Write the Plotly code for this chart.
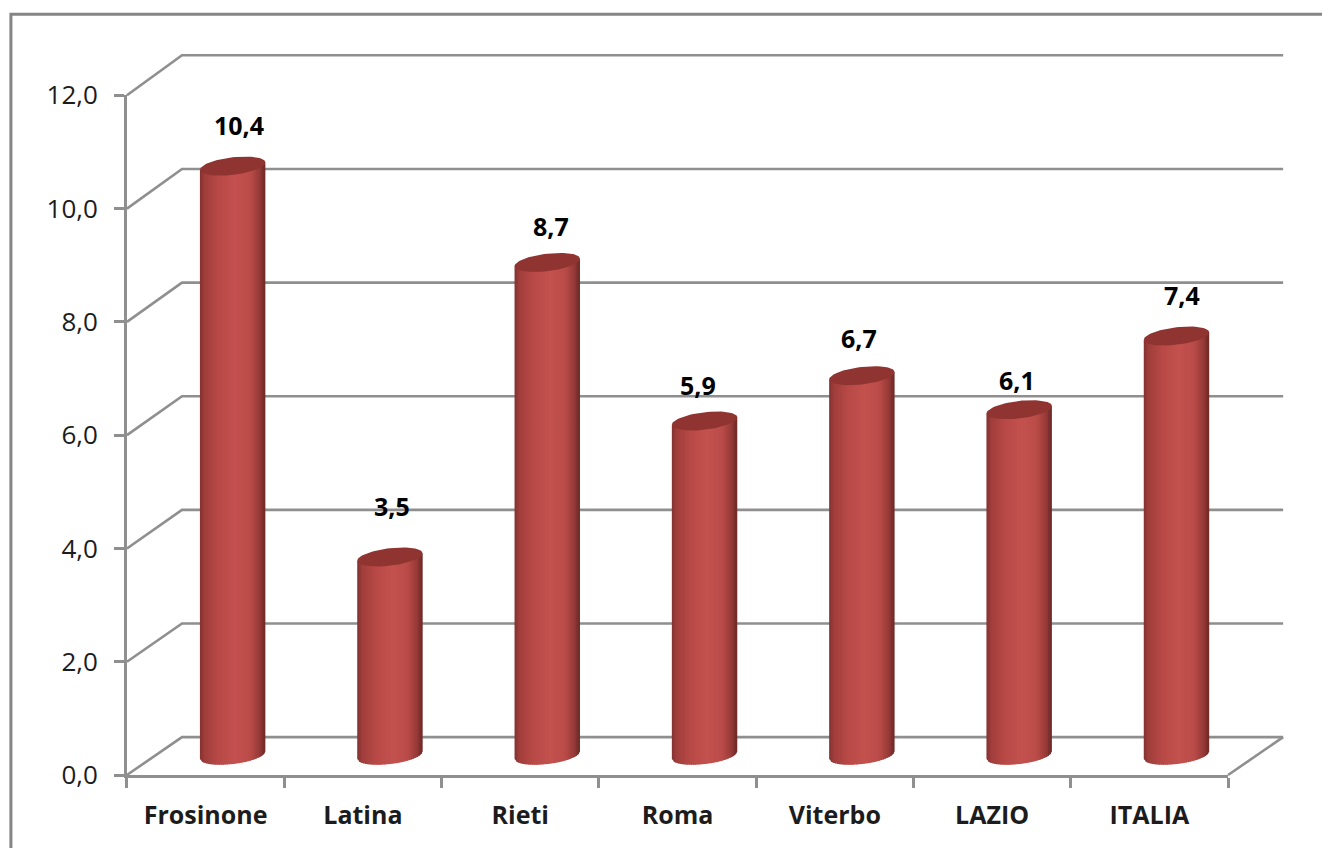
import numpy as np
import plotly.graph_objects as go

# Share per province, with the regional and national figures alongside
categories = ["Frosinone", "Latina", "Rieti", "Roma", "Viterbo", "LAZIO", "ITALIA"]
values = [10.4, 3.5, 8.7, 5.9, 6.7, 6.1, 7.4]
y_ticks = [0, 2, 4, 6, 8, 10, 12]

# Hand placement of each value label, in pixels from the top of its column
label_dx = [6, 2, 4, -7, -3, -2, 6]
label_dy = [-41, -51, -36, -36, -38, -30, -41]

WIDTH, HEIGHT = 1322, 848
GRID = "#8f8f8f"
TEXT = "#1c1c1c"
FONT = "Open Sans"

# Pixel scale of the front face of the box
PX_X = 157.286
PX_Y = 56.667
ORIGIN_X, ORIGIN_Y = 127, 775

# The drawing axes reach past the front face to hold the receding walls
X_MIN, X_MAX = -0.025, 7.4
Y_MIN, Y_MAX = -0.07, 12.8
LEFT = ORIGIN_X + X_MIN * PX_X
RIGHT = ORIGIN_X + X_MAX * PX_X
BOTTOM = ORIGIN_Y - Y_MIN * PX_Y
TOP = ORIGIN_Y - Y_MAX * PX_Y

# Oblique depth of the pseudo-3D box, in axis units
DEPTH_X = 0.35
DEPTH_Y = 0.67
WALL_SCALE = 1.003

# Cylinder geometry, in axis units
RADIUS_X = 0.208
RADIUS_Y = 0.155
TILT = 0.065
COL_DX = DEPTH_X / 2 - 0.003
COL_DY = 0.35

fig = go.Figure()

# Back wall, side wall and floor's right edge
gx, gy = [], []
for v in y_ticks:
    wall = DEPTH_Y + v * WALL_SCALE
    gx += [0, DEPTH_X, 7 + DEPTH_X, None]
    gy += [v, wall, wall, None]
gx += [7, 7 + DEPTH_X, None]
gy += [0, DEPTH_Y, None]
fig.add_trace(go.Scatter(x=gx, y=gy, mode="lines",
                         line=dict(color=GRID, width=2.6), hoverinfo="skip"))


def shade(u):
    """Cylinder side colour at u in [-1, 1] across the column."""
    stops = [-1, -0.85, -0.4, 0.1, 0.55, 0.85, 1]
    reds = [125, 160, 185, 196, 186, 150, 105]
    greens = [48, 62, 74, 82, 76, 58, 40]
    blues = [46, 60, 71, 79, 73, 56, 38]
    return "rgb(%d,%d,%d)" % (np.interp(u, stops, reds),
                              np.interp(u, stops, greens),
                              np.interp(u, stops, blues))


# Column sides: vertical strips that step through the shading
N_STRIPS = 34
edges = np.linspace(-1, 1, N_STRIPS + 1)
for s in range(N_STRIPS):
    u0, u1 = edges[s], min(edges[s + 1] + 0.03, 1)
    xs, ys = [], []
    for i, val in enumerate(values):
        cx = i + 0.5 + COL_DX
        low0 = COL_DY + TILT * u0 - RADIUS_Y * np.sqrt(1 - u0 ** 2)
        low1 = COL_DY + TILT * u1 - RADIUS_Y * np.sqrt(1 - u1 ** 2)
        top0 = COL_DY + val + TILT * u0
        top1 = COL_DY + val + TILT * u1
        xs += [cx + RADIUS_X * u0, cx + RADIUS_X * u1, cx + RADIUS_X * u1,
               cx + RADIUS_X * u0, cx + RADIUS_X * u0, None]
        ys += [low0, low1, top1, top0, low0, None]
    fig.add_trace(go.Scatter(x=xs, y=ys, mode="lines", fill="toself",
                             fillcolor=shade((u0 + u1) / 2), line=dict(width=0),
                             hoverinfo="skip"))

# Column caps
theta = np.linspace(0, 2 * np.pi, 73)
cap_x, cap_y = [], []
for i, val in enumerate(values):
    cx = i + 0.5 + COL_DX
    cap_x += list(cx + RADIUS_X * np.cos(theta)) + [None]
    cap_y += list(COL_DY + val + TILT * np.cos(theta) + RADIUS_Y * np.sin(theta)) + [None]
fig.add_trace(go.Scatter(x=cap_x, y=cap_y, mode="lines", fill="toself",
                         fillcolor="#8f3431", line=dict(width=0), hoverinfo="skip"))

# The front-face axes carry the lines, ticks and labels; this transparent
# series is what makes them render
fig.add_trace(go.Scatter(x=[i + 0.5 for i in range(len(categories))], y=values,
                         xaxis="x2", yaxis="y2", mode="markers",
                         marker=dict(opacity=0), hoverinfo="skip"))

# Value labels above the columns
annotations = [
    dict(x=i + 0.5 + COL_DX, y=COL_DY + val, xref="x", yref="y",
         text=f"{val:.1f}".replace(".", ","), showarrow=False,
         xshift=label_dx[i], yshift=-label_dy[i],
         font=dict(family=FONT, size=25, color="#000000", weight="bold"))
    for i, val in enumerate(values)
]

# Outer chart frame, open towards the page edges
plot_w, plot_h = RIGHT - LEFT, BOTTOM - TOP
frame_x = [(p - LEFT) / plot_w for p in (11, 11, WIDTH)]
frame_y = [(BOTTOM - p) / plot_h for p in (HEIGHT, 14, 14)]
frame_path = "M{} {} L{} {} L{} {}".format(frame_x[0], frame_y[0], frame_x[1],
                                            frame_y[1], frame_x[2], frame_y[2])

fig.update_layout(
    template="none",
    width=WIDTH, height=HEIGHT,
    margin=dict(l=LEFT, r=WIDTH - RIGHT, t=TOP, b=HEIGHT - BOTTOM, pad=0),
    paper_bgcolor="white", plot_bgcolor="rgba(0,0,0,0)",
    showlegend=False, separators=",.",
    annotations=annotations,
    shapes=[dict(type="path", path=frame_path, xref="paper", yref="paper",
                 line=dict(color="#858585", width=3), layer="below")],
    # Drawing axes for walls and columns
    xaxis=dict(range=[X_MIN, X_MAX], visible=False, domain=[0, 1]),
    yaxis=dict(range=[Y_MIN, Y_MAX], visible=False, domain=[0, 1]),
    # Front-face axes
    xaxis2=dict(
        anchor="y2", range=[0, 7],
        domain=[(0 - X_MIN) / (X_MAX - X_MIN), (7 - X_MIN) / (X_MAX - X_MIN)],
        showgrid=False, zeroline=False,
        showline=True, linecolor=GRID, linewidth=2.6,
        tickmode="array", tickvals=[i + 0.5 for i in range(len(categories))],
        ticktext=categories, ticks="", ticklabelstandoff=16,
        tickfont=dict(family=FONT, size=25, color=TEXT, weight="bold"),
        minor=dict(tickmode="array", tickvals=list(range(len(categories) + 1)),
                   ticks="outside", ticklen=10, tickwidth=2.6, tickcolor=GRID),
    ),
    yaxis2=dict(
        anchor="x2", range=[0, 12],
        domain=[(0 - Y_MIN) / (Y_MAX - Y_MIN), (12 - Y_MIN) / (Y_MAX - Y_MIN)],
        showgrid=False, zeroline=False,
        showline=True, linecolor=GRID, linewidth=2.6,
        tickmode="array", tickvals=y_ticks, tickformat=".1f",
        ticks="outside", ticklen=10, tickwidth=2.6, tickcolor=GRID,
        ticklabelstandoff=11,
        tickfont=dict(family=FONT, size=26, color=TEXT),
    ),
)

fig.write_html("out.html")
